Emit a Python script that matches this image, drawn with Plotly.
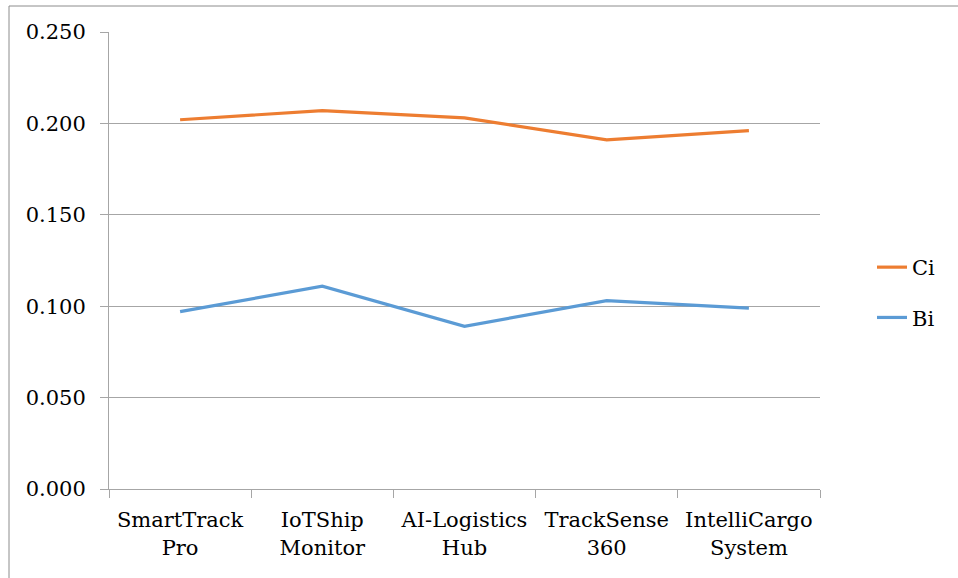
import plotly.graph_objects as go

# Platforms and their computed indices
categories = ["SmartTrack<br>Pro", "IoTShip<br>Monitor", "AI-Logistics<br>Hub",
              "TrackSense<br>360", "IntelliCargo<br>System"]
ci_values = [0.202, 0.207, 0.203, 0.191, 0.196]
bi_values = [0.097, 0.111, 0.089, 0.103, 0.099]
y_ticks = [0.0, 0.05, 0.10, 0.15, 0.20, 0.25]

W, H = 958, 578
L, R, T, B = 109, 138, 32, 89
pw, ph = W - L - R, H - T - B

font = dict(family="DejaVu Serif", size=21, color="#000000")

fig = go.Figure()
fig.add_trace(go.Scatter(x=categories, y=ci_values, name="Ci", mode="lines",
                         line=dict(color="#ED7D31", width=3.2), legendgroup="ci"))
fig.add_trace(go.Scatter(x=categories, y=bi_values, name="Bi", mode="lines",
                         line=dict(color="#5B9BD5", width=3.2), legendgroup="bi"))

# Outer chart border (partly runs off the page on the right and bottom)
def px_x(v):
    return (v - L) / pw

def px_y(v):
    return (H - B - v) / ph

fig.add_shape(type="rect", xref="paper", yref="paper",
              x0=px_x(9), x1=px_x(965), y0=px_y(6), y1=px_y(585),
              line=dict(color="#8c8c8c", width=1), fillcolor="rgba(0,0,0,0)")

fig.update_layout(
    width=W, height=H,
    margin=dict(l=L, r=R, t=T, b=B),
    paper_bgcolor="white", plot_bgcolor="white",
    font=font,
    showlegend=True,
    legend=dict(x=px_x(872), y=0.43, xanchor="left", yanchor="middle",
                font=font, tracegroupgap=20, traceorder="grouped",
                bgcolor="rgba(0,0,0,0)"),
)
fig.update_xaxes(
    showgrid=False, showline=True, linecolor="#a6a6a6", linewidth=1,
    ticks="outside", ticklen=8, tickcolor="#a6a6a6", tickson="boundaries",
    tickfont=font, zeroline=False, range=[-0.5, 4.5], ticklabelstandoff=12,
)
fig.update_yaxes(
    range=[0, 0.25], tickvals=y_ticks, tickformat=".3f",
    showgrid=True, gridcolor="#a6a6a6", gridwidth=1,
    showline=True, linecolor="#a6a6a6", linewidth=1,
    ticks="outside", ticklen=8, tickcolor="#a6a6a6",
    tickfont=font, zeroline=False, ticklabelstandoff=10,
)

fig.write_html("out.html")
